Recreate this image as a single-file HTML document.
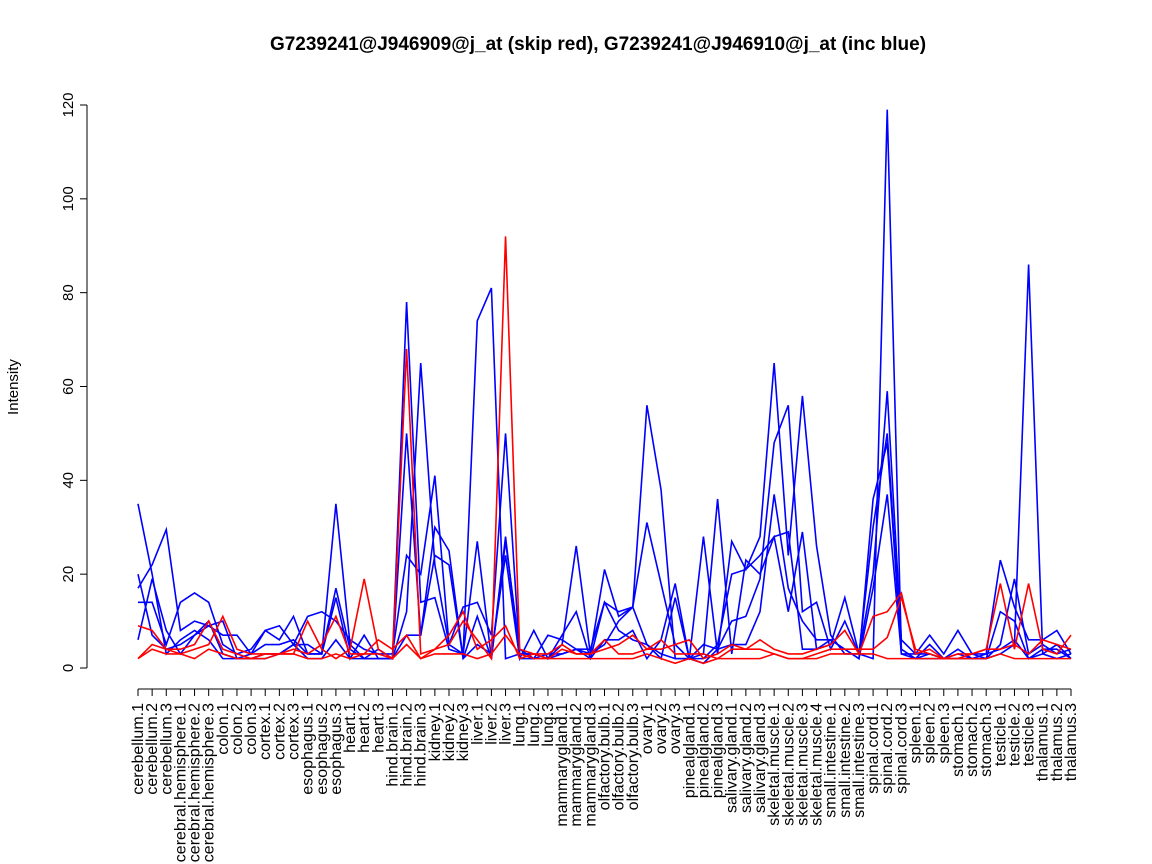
<!DOCTYPE html>
<html><head><meta charset="utf-8"><style>
body{margin:0;background:#fff}
svg{display:block;font-family:"Liberation Sans",sans-serif}
</style></head><body>
<svg id="chart" width="1152" height="864">
<text x="598" y="50" text-anchor="middle" font-size="19" font-weight="bold">G7239241@J946909@j_at (skip red), G7239241@J946910@j_at (inc blue)</text>
<text transform="translate(18,387) rotate(-90)" text-anchor="middle" font-size="15">Intensity</text>
<g id="yaxis"></g>
<g id="xaxis"></g>
<g id="series"></g>
</svg>
<script>
const categories=["cerebellum.1","cerebellum.2","cerebellum.3","cerebral.hemisphere.1","cerebral.hemisphere.2","cerebral.hemisphere.3","colon.1","colon.2","colon.3","cortex.1","cortex.2","cortex.3","esophagus.1","esophagus.2","esophagus.3","heart.1","heart.2","heart.3","hind.brain.1","hind.brain.2","hind.brain.3","kidney.1","kidney.2","kidney.3","liver.1","liver.2","liver.3","lung.1","lung.2","lung.3","mammarygland.1","mammarygland.2","mammarygland.3","olfactory.bulb.1","olfactory.bulb.2","olfactory.bulb.3","ovary.1","ovary.2","ovary.3","pinealgland.1","pinealgland.2","pinealgland.3","salivary.gland.1","salivary.gland.2","salivary.gland.3","skeletal.muscle.1","skeletal.muscle.2","skeletal.muscle.3","skeletal.muscle.4","small.intestine.1","small.intestine.2","small.intestine.3","spinal.cord.1","spinal.cord.2","spinal.cord.3","spleen.1","spleen.2","spleen.3","stomach.1","stomach.2","stomach.3","testicle.1","testicle.2","testicle.3","thalamus.1","thalamus.2","thalamus.3"];
const yTicks=[0,20,40,60,80,100,120];
const blue1=[35,20,3,6,8,6,2,2,3,5,5,6,3,3,35,5,2,2,2,78,14,15,4,3,74,81,2,3,3,2,3,4,2,14,12,13,56,38,2,2,3,36,3,23,20,28,29,4,4,5,15,3,2,119,4,2,5,2,3,2,2,3,5,86,3,2,3];
const blue2=[14,14,5,14,16,14,5,3,4,8,6,11,3,3,17,4,2,2,2,12,65,22,5,13,14,7,50,3,3,2,5,26,3,21,11,13,31,18,5,2,28,3,27,21,28,65,24,58,26,7,3,3,20,59,6,3,7,3,8,3,3,23,13,6,6,8,3];
const blue3=[17,22,29.5,8,10,9,7,7,3,8,9,5,11,12,10,6,4,3,3,24,20,41,5,3,27,2,28,2,8,2,7,12,2,6,6,8,2,6,18,2,5,4,10,11,19,48,56,12,14,4,10,3,30,50,4,2,3,2,4,2,2,12,10,2,4,4,2];
const blue4=[20,7,4,5,7,10,3,2,2,3,3,5,2,2,6,2,2,4,2,50,7,30,25,2,11,2,27,4,2,7,6,4,4,14,8,6,5,3,2,2,2,5,20,21,24,28,12,29,4,6,4,2,36,48,3,2,2,2,2,3,2,5,19,3,5,3,4];
const blue5=[6,19,8,3,7,9,10,2,2,2,3,5,5,3,15,2,7,2,2,7,7,24,22,2,5,3,24,2,2,3,3,4,3,5,10,13,5,2,15,2,1,4,5,5,12,37,17,10,6,6,4,2,17,37,3,3,3,2,2,2,3,4,6,2,3,5,2];
const red1=[9,8,4,4,5,10,4,3,2,3,3,3,10,4,2,4,19,4,2,68,3,4,5,10,6,2,92,4,3,2,4,3,3,6,3,3,4,6,3,3,3,2,4,4,6,4,3,3,4,5,8,3,11,12,16,3,4,2,3,3,4,18,4,18,4,3,7];
const red2=[2,5,4,3,4,5,11,4,3,3,3,4,3,5,11,3,3,6,4,7,2,4,7,12,4,6,9,2,3,3,5,3,3,4,5,7,4,4,5,6,2,3,5,4,4,3,2,2,3,4,4,4,4,6.5,15,4,3,2,2,3,4,4,5,3,6,5,4];
const red3=[2,4,3,3,2,4,3,2,2,2,3,3,2,2,3,2,3,3,2,5,2,3,3,3,2,3,7,3,2,2,2,2,2,2,2,2,3,2,1,2,1,2,2,2,2,3,2,2,2,3,3,3,3,2,2,2,2,2,2,2,2,3,2,2,2,2,2];
const NS="http://www.w3.org/2000/svg";
const X0=138,X1=1071,Y0=668,Y120=105;
const xs=i=>X0+i*(X1-X0)/(categories.length-1);
const ys=v=>Y0-v*(Y0-Y120)/120;
function mk(t,a,p){const e=document.createElementNS(NS,t);for(const k in a)e.setAttribute(k,a[k]);p.appendChild(e);return e;}
const ya=document.getElementById('yaxis');
const yl=mk('line',{x1:87,x2:87,y1:ys(0),y2:ys(120),stroke:'#000'},ya);


yTicks.forEach(t=>{
 const l=mk('line',{x1:80,x2:87,y1:ys(t),y2:ys(t),stroke:'#000'},ya);
 
 
 const tx=mk('text',{transform:`translate(73,${ys(t)}) rotate(-90)`,'text-anchor':'middle','font-size':15},ya);
 tx.textContent=t;
 
 
});
const xa=document.getElementById('xaxis');
const xl=mk('line',{x1:X0,x2:X1,y1:689,y2:689,stroke:'#000'},xa);


categories.forEach((c,i)=>{
 const l=mk('line',{x1:xs(i),x2:xs(i),y1:689,y2:696,stroke:'#000'},xa);
 
 
 const tx=mk('text',{transform:`translate(${xs(i)+5},703) rotate(-90)`,'text-anchor':'end','font-size':16},xa);
 tx.textContent=c;
 
 
});
const sg=document.getElementById('series');
const all=[[blue1,'#0000ff','blue'],[blue2,'#0000ff','blue'],[blue3,'#0000ff','blue'],[blue4,'#0000ff','blue'],[blue5,'#0000ff','blue'],[red1,'#ff0000','red'],[red2,'#ff0000','red'],[red3,'#ff0000','red']];
all.forEach(([d,c,n],k)=>{
 const p=mk('polyline',{points:d.map((v,i)=>xs(i)+','+ys(v)).join(' '),fill:'none',stroke:c,'stroke-width':1.6},sg);
 
 
});
</script>
</body></html>
